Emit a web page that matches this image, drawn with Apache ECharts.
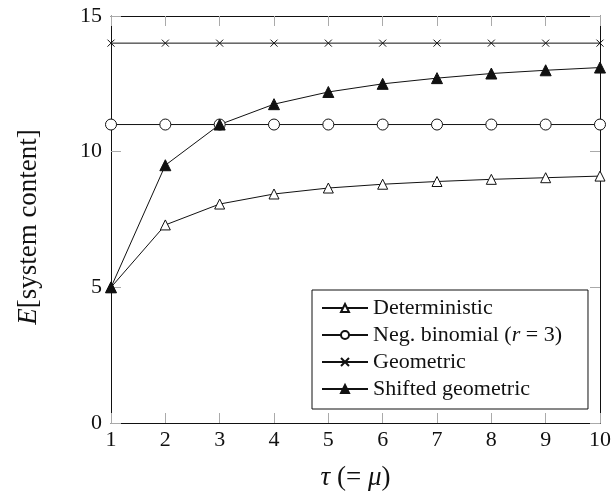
<!DOCTYPE html>
<html>
<head>
<meta charset="utf-8">
<script src="https://cdn.jsdelivr.net/npm/echarts@6/dist/echarts.min.js"></script>
<style>
  html, body { margin: 0; padding: 0; background: #fff; }
  #chart { width: 614px; height: 499px; }
</style>
</head>
<body>
<div id="chart"></div>
<script>
// tau (= mu) values
const tau = [1, 2, 3, 4, 5, 6, 7, 8, 9, 10];

// E[system content]
const deterministic = [5, 7.3, 8.07, 8.44, 8.66, 8.8, 8.9, 8.98, 9.04, 9.1];
const negBinomial = [11, 11, 11, 11, 11, 11, 11, 11, 11, 11];
const geometric = [14, 14, 14, 14, 14, 14, 14, 14, 14, 14];
const shiftedGeometric = [5, 9.5, 11, 11.75, 12.2, 12.5, 12.71, 12.88, 13.0, 13.1];

const seriesNames = ['Deterministic', 'Neg. binomial (r = 3)', 'Geometric', 'Shifted geometric'];

const FONT = '"Liberation Serif", "DejaVu Serif", serif';
const crossPath = 'path://M0,0L10,10M10,0L0,10';

const chart = echarts.init(document.getElementById('chart'), null, { renderer: 'canvas' });

function zip(ys) {
    return tau.map((x, i) => [x, ys[i]]);
}

function lineSeries(name, ys, symbol, size, fill) {
    return {
        name: name,
        type: 'line',
        data: zip(ys),
        symbol: symbol,
        symbolSize: size,
        clip: false,
        lineStyle: { color: '#111', width: 1 },
        itemStyle: { color: fill, borderColor: '#111', borderWidth: 1 },
        emphasis: { disabled: true },
        animation: false
    };
}

const boxAxisBase = {
    type: 'value',
    axisLine: { show: true, onZero: false, lineStyle: { color: '#111', width: 1 } },
    axisTick: { show: true, inside: true, length: 10, lineStyle: { color: '#aaa', width: 1 } },
    splitLine: { show: false }
};

const option = {
    backgroundColor: '#fff',
    animation: false,
    grid: { left: 111, top: 16, right: 11, bottom: 76 },
    legend: {
        orient: 'vertical',
        left: 312,
        top: 290,
        padding: [7, 26, 9, 9],
        itemWidth: 46,
        itemHeight: 10,
        itemGap: 5,
        backgroundColor: '#fff',
        borderColor: '#111',
        borderWidth: 1,
        borderRadius: 0,
        data: seriesNames,
        formatter: function (name) {
            if (name === seriesNames[1]) {
                return '{n|Neg. binomial (}{i|r}{n| = 3)}';
            }
            return '{n|' + name + '}';
        },
        textStyle: {
            fontFamily: FONT,
            fontSize: 22,
            color: '#111',
            rich: {
                n: { fontFamily: FONT, fontSize: 22, lineHeight: 22, color: '#111' },
                i: { fontFamily: FONT, fontSize: 22, lineHeight: 22, color: '#111', fontStyle: 'italic' }
            }
        }
    },
    graphic: [{
        type: 'text',
        x: 29,
        y: 227,
        rotation: Math.PI / 2,
        style: {
            text: '{i|E}[system content]',
            fontFamily: FONT,
            fontSize: 27,
            fill: '#111',
            align: 'center',
            verticalAlign: 'middle',
            rich: { i: { fontFamily: FONT, fontSize: 27, fontStyle: 'italic', fill: '#111' } }
        }
    }],
    xAxis: [
        Object.assign({}, boxAxisBase, {
            position: 'bottom',
            min: 1, max: 10, interval: 1,
            axisLabel: { fontFamily: FONT, fontSize: 22, color: '#111', margin: 6 },
            name: '{i|τ} (= {i|μ})',
            nameLocation: 'middle',
            nameGap: 41,
            nameTextStyle: {
                fontFamily: FONT, fontSize: 27, color: '#111',
                rich: { i: { fontFamily: FONT, fontSize: 27, fontStyle: 'italic', color: '#111' } }
            }
        }),
        Object.assign({}, boxAxisBase, {
            position: 'top',
            min: 1, max: 10, interval: 1,
            axisLabel: { show: false }
        })
    ],
    yAxis: [
        Object.assign({}, boxAxisBase, {
            position: 'left',
            min: 0, max: 15, interval: 5,
            axisLabel: { fontFamily: FONT, fontSize: 22, color: '#111', margin: 9 }
        }),
        Object.assign({}, boxAxisBase, {
            position: 'right',
            min: 0, max: 15, interval: 5,
            axisLabel: { show: false }
        })
    ],
    series: [
        lineSeries(seriesNames[0], deterministic, 'triangle', 10, '#fff'),
        lineSeries(seriesNames[1], negBinomial, 'circle', 11, '#fff'),
        lineSeries(seriesNames[2], geometric, crossPath, 7, '#111'),
        lineSeries(seriesNames[3], shiftedGeometric, 'triangle', 11, '#111')
    ]
};

chart.setOption(option);
</script>
</body>
</html>
